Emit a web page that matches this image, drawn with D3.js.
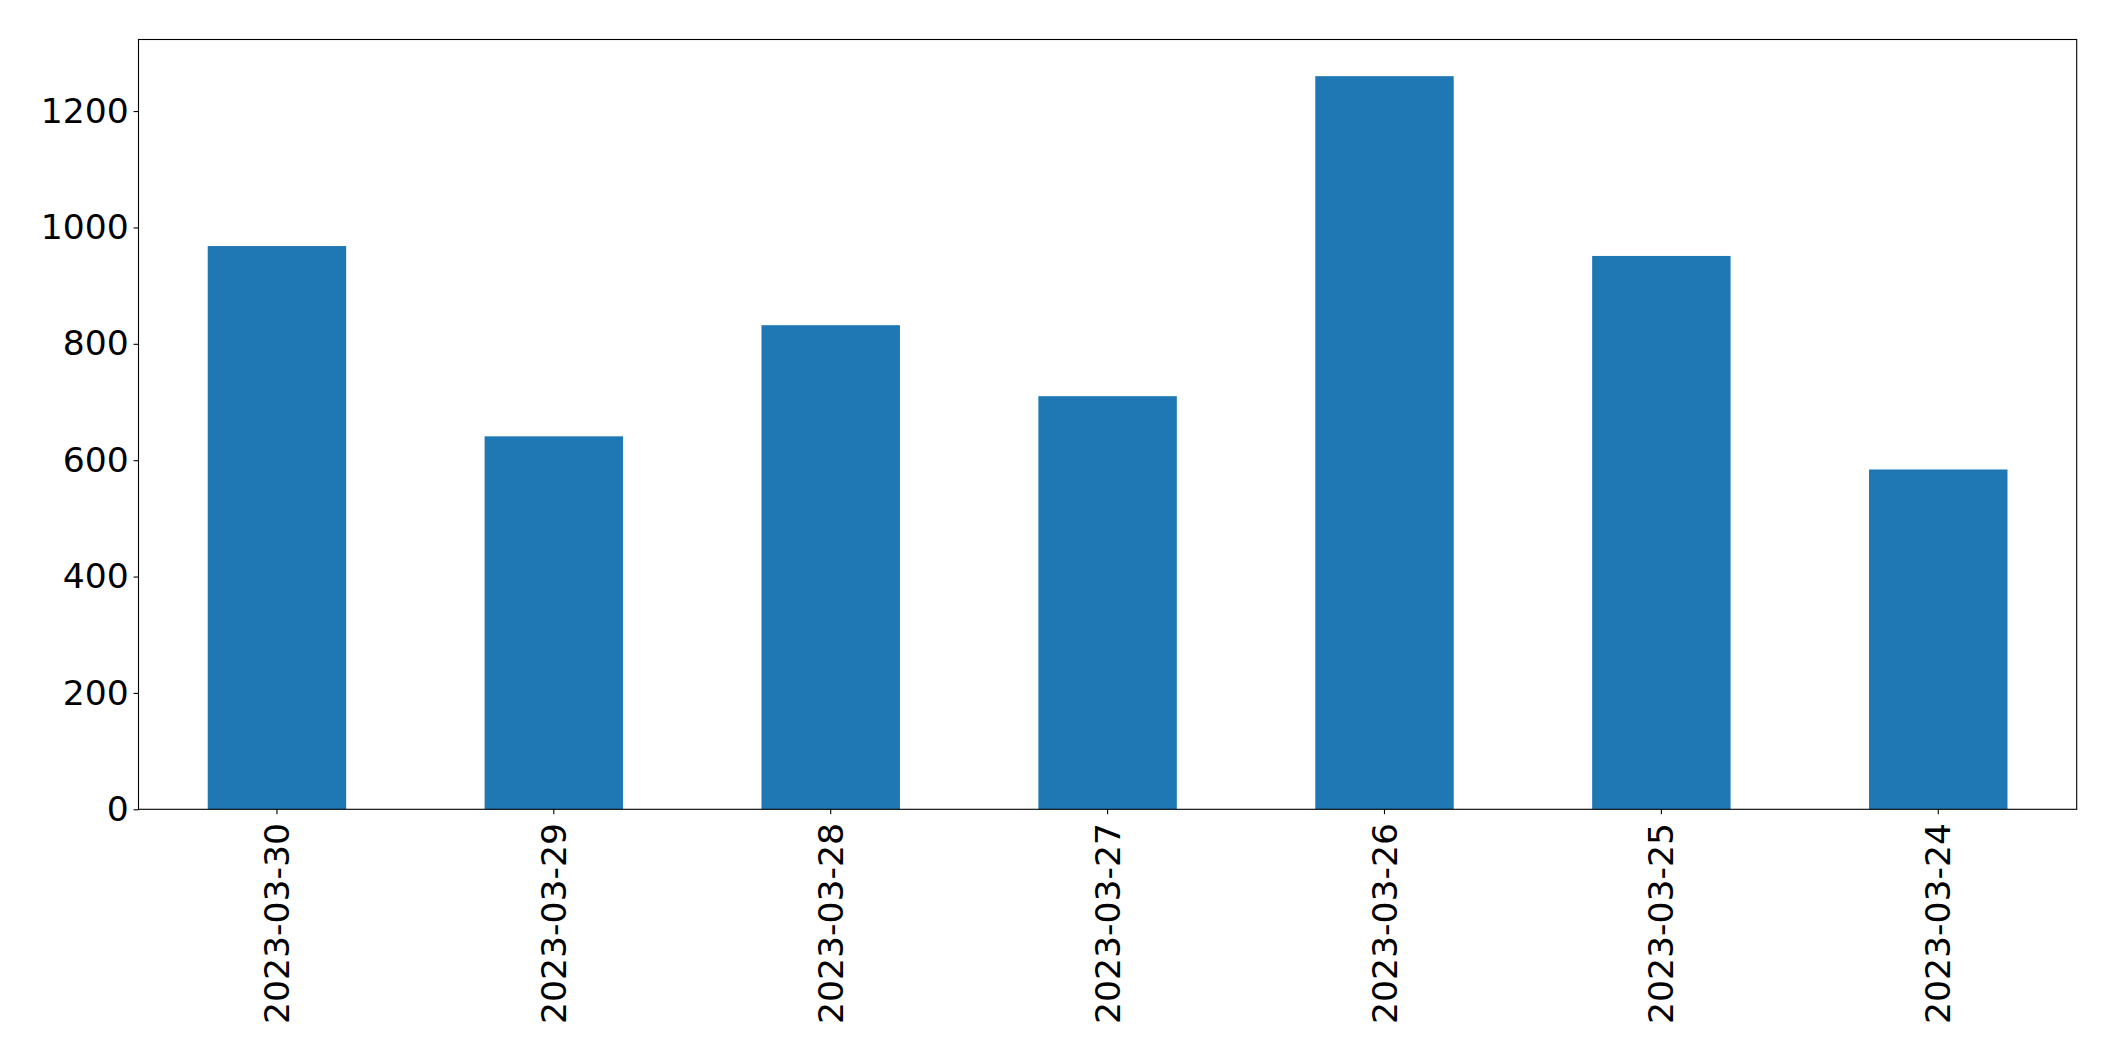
<!DOCTYPE html>
<html>
<head>
<meta charset="utf-8">
<script src="https://cdn.jsdelivr.net/npm/d3@7"></script>
<style>
  body { margin: 0; background: #fff; }
  svg text { font-family: "DejaVu Sans", sans-serif; }
</style>
</head>
<body>
<svg width="2115" height="1061"></svg>
<script>
var dates = ["2023-03-30", "2023-03-29", "2023-03-28", "2023-03-27", "2023-03-26", "2023-03-25", "2023-03-24"];
var counts = [968, 641, 832, 710, 1260, 951, 584];
var yTicks = [0, 200, 400, 600, 800, 1000, 1200];

var svg = d3.select("svg"),
    plotLeft = 138.5, plotRight = 2076.7, plotTop = 39.5, plotBottom = 809.3,
    fontSize = 34.6, tickLen = 4.9, pad = 4.9;

var x = d3.scaleBand()
  .domain(dates)
  .range([plotLeft, plotRight])
  .paddingInner(0.5)
  .paddingOuter(0.25);

var y = d3.scaleLinear()
  .domain([0, d3.max(counts) * 1.05])
  .range([plotBottom, plotTop]);

// bars
svg.append("g").selectAll("rect")
  .data(dates)
  .enter().append("rect")
  .attr("x", function(d) { return x(d); })
  .attr("width", x.bandwidth())
  .attr("y", function(d, i) { return y(counts[i]); })
  .attr("height", function(d, i) { return plotBottom - y(counts[i]); })
  .attr("fill", "#1f77b4");

// y axis
var yAxis = svg.append("g")
  .attr("transform", "translate(" + plotLeft + ",0)")
  .call(d3.axisLeft(y).tickValues(yTicks).tickFormat(d3.format("d"))
    .tickSize(tickLen).tickPadding(pad).tickSizeOuter(0));
yAxis.select(".domain").remove();
yAxis.selectAll("line").attr("stroke", "#000").attr("stroke-width", 1.1);
yAxis.selectAll("text").attr("font-size", fontSize).attr("fill", "#000")
  .attr("font-family", "DejaVu Sans");

// x axis
var xAxis = svg.append("g")
  .attr("transform", "translate(0," + plotBottom + ")")
  .call(d3.axisBottom(x).tickSize(tickLen).tickSizeOuter(0));
xAxis.select(".domain").remove();
xAxis.selectAll("line").attr("stroke", "#000").attr("stroke-width", 1.1);
xAxis.selectAll("text")
  .attr("font-size", fontSize).attr("fill", "#000")
  .attr("font-family", "DejaVu Sans")
  .attr("transform", "rotate(-90)")
  .attr("text-anchor", "end")
  .attr("x", -(tickLen + pad + 4))
  .attr("y", 0)
  .attr("dy", "0.35em");

// frame
svg.append("rect")
  .attr("x", plotLeft).attr("y", plotTop)
  .attr("width", plotRight - plotLeft).attr("height", plotBottom - plotTop)
  .attr("fill", "none").attr("stroke", "#000").attr("stroke-width", 1.1);
</script>
</body>
</html>
